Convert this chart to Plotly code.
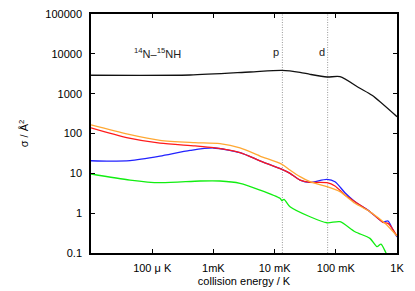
import math
import plotly.graph_objects as go

# collision energy (K) and cross sections (Å^2)
E_black = [1e-5, 4.15e-4, 3.96e-3, 0.0132, 0.026, 0.0379, 0.0718, 0.117, 0.248, 0.391, 1.0]
s_black = [2900, 2940, 3500, 3860, 3440, 3060, 2620, 2670, 1365, 910, 264]

E_orange = [1e-5, 4.0e-5, 1.34e-4, 5.0e-4, 1.28e-3, 2.72e-3, 5.77e-3, 0.0132, 0.01786, 0.026,
            0.0379, 0.0718, 0.117, 0.206, 0.362, 0.637, 1.0]
s_orange = [164, 96, 67, 59, 55.5, 43.5, 27.2, 16.8, 12.1, 8.26,
            6.17, 4.62, 3.46, 1.77, 1.09, 0.557, 0.267]

E_red = [1e-5, 4.0e-5, 1.34e-4, 5.0e-4, 1.0e-3, 2.72e-3, 5.77e-3, 0.0132, 0.01786, 0.026,
         0.0379, 0.0718, 0.097, 0.141, 0.206, 0.362, 0.590, 0.713, 0.828, 1.0]
s_red = [139, 78, 57.3, 48.9, 44.0, 33.0, 20.6, 12.6, 10.0, 6.79,
         5.94, 5.81, 4.81, 2.86, 1.94, 1.09, 0.589, 0.556, 0.424, 0.267]

E_blue = [1e-5, 2.04e-5, 4.34e-5, 1.34e-4, 4.15e-4, 1.0e-3, 2.72e-3, 5.77e-3, 0.0132,
          0.01786, 0.026, 0.0379, 0.0718, 0.097, 0.141, 0.206, 0.362, 0.590, 0.713, 0.828, 1.0]
s_blue = [20.7, 20.2, 20.8, 27.0, 37.5, 43.3, 33.0, 20.6, 12.6,
          10.0, 6.79, 5.94, 7.08, 6.17, 3.26, 1.94, 1.09, 0.600, 0.635, 0.424, 0.252]

E_green = [1e-5, 4.34e-5, 1.34e-4, 6.04e-4, 1.28e-3, 2.72e-3, 5.77e-3, 0.01225, 0.0132, 0.01426,
           0.01786, 0.0379, 0.0718, 0.117, 0.206, 0.362, 0.471, 0.548, 0.661, 0.8]
s_green = [9.62, 6.79, 5.82, 6.42, 6.42, 5.62, 3.81, 2.36, 2.05, 2.23,
           1.45, 0.814, 0.575, 0.610, 0.342, 0.233, 0.144, 0.168, 0.1, 0.06]

# threshold markers
thresholds = [0.0134, 0.0736]
threshold_labels = ["p", "d"]

tick_vals = [1e-4, 1e-3, 1e-2, 1e-1, 1]
tick_text = ["100 μ K", "1mK", "10 mK", "100 mK", "1K"]
ytick_vals = [0.1, 1, 10, 100, 1000, 10000, 100000]
ytick_text = ["0.1", "1", "10", "100", "1000", "10000", "100000"]

fig = go.Figure()

for xv in thresholds:
    fig.add_trace(go.Scatter(x=[xv, xv], y=[0.1, 100000], mode="lines",
                             line=dict(color="#999999", width=1, dash="1px,1.5px"),
                             showlegend=False, hoverinfo="skip"))

series = [
    (E_green, s_green, "#11ee11"),
    (E_blue, s_blue, "#2222ff"),
    (E_red, s_red, "#ff1a1a"),
    (E_orange, s_orange, "#ffa833"),
    (E_black, s_black, "#111111"),
]
for ex, sv, col in series:
    fig.add_trace(go.Scatter(x=ex, y=sv, mode="lines",
                             line=dict(color=col, width=1.3, shape="spline", smoothing=0.7),
                             showlegend=False))

for xv, lab in zip(thresholds, threshold_labels):
    fig.add_annotation(x=math.log10(xv), y=0.875, xref="x", yref="paper", text=lab,
                       showarrow=False, xanchor="right", xshift=-1,
                       font=dict(size=11, color="#222222"))

fig.add_annotation(x=0.135, y=0.875, xref="paper", yref="paper",
                   text="<sup>14</sup>N–<sup>15</sup>NH", showarrow=False,
                   xanchor="left", font=dict(size=11, color="#222222"))

axis_common = dict(showline=True, linecolor="black", linewidth=1.5, mirror="ticks",
                   ticks="inside", ticklen=4, tickwidth=1.2, tickcolor="black",
                   showgrid=False, zeroline=False, automargin=False,
                   ticklabeloverflow="allow",
                   tickfont=dict(size=11, color="black", family="Liberation Sans, Arial, sans-serif"))

fig.update_xaxes(type="log", range=[-5, 0], tickvals=tick_vals, ticktext=tick_text,
                 title=dict(text="collision energy / K", standoff=4,
                            font=dict(size=11, color="black")),
                 ticklabelstandoff=4, **axis_common)
fig.update_yaxes(type="log", range=[-1, 5], tickvals=ytick_vals, ticktext=ytick_text,
                 title=dict(text="σ / Å<sup>2</sup>", standoff=14,
                            font=dict(size=11, color="black")),
                 ticklabelstandoff=5, **axis_common)

fig.update_layout(width=407, height=283, margin=dict(l=83, r=18, t=6, b=38),
                  plot_bgcolor="white", paper_bgcolor="white",
                  font=dict(family="Liberation Sans, Arial, sans-serif", size=11, color="black"))

fig.write_html("out.html")
